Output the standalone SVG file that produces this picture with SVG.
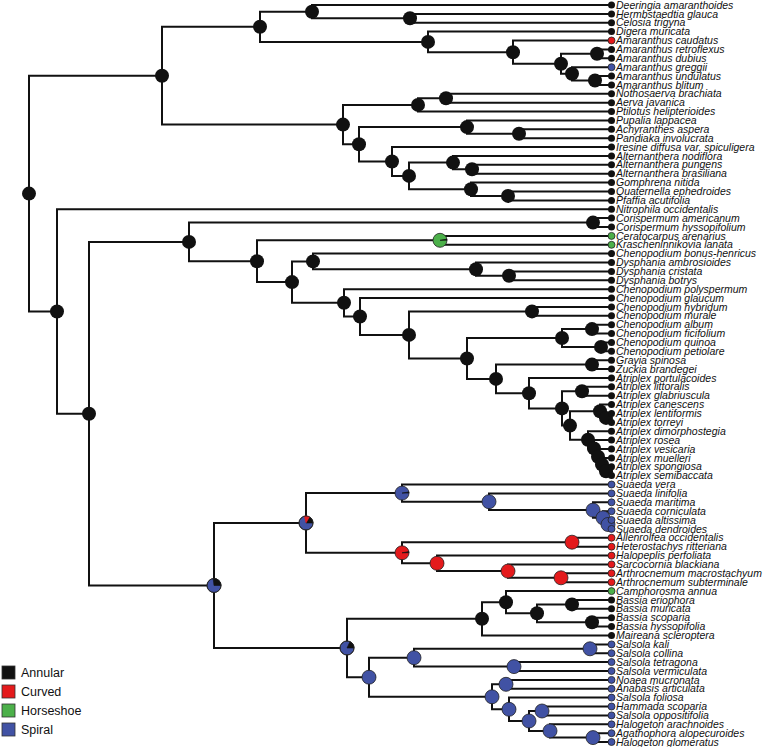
<svg xmlns="http://www.w3.org/2000/svg" width="763" height="747" viewBox="0 0 763 747">
<style>
.e{stroke:#111;stroke-width:2;fill:none;stroke-linejoin:miter;stroke-linecap:square}
.n{fill:#111}
.t{fill:#111}
.bl{fill:#4152a4;stroke:#222;stroke-width:0.8}
.rd{fill:#e41a1c;stroke:#222;stroke-width:0.8}
.gr{fill:#4cb04a;stroke:#222;stroke-width:0.8}
.k{fill:#111;stroke:#111;stroke-width:0.6}
.r{fill:#e41a1c;stroke:#e41a1c;stroke-width:0.4}
.o{fill:none;stroke:#222;stroke-width:0.8}
text{font-family:"Liberation Sans",Arial,Helvetica,sans-serif;fill:#111}
.l{font-style:italic;font-size:10.5px}
.lg{font-size:12.5px}
</style>
<rect width="763" height="747" fill="#fff"/>
<g id="connectors" class="e">
<path d="M162,75.7H29V311.5H57"/>
<path d="M260,26.8H162V124.6H343"/>
<path d="M312,11.7H260V41.9H428"/>
<path d="M611.5,5H312V18.3H410"/>
<path d="M611.5,13.9H410V22.8H611.5"/>
<path d="M611.5,31.6H428V52.2H513"/>
<path d="M611.5,40.5H513V63.8H561"/>
<path d="M597,53.8H561V73.8H572"/>
<path d="M611.5,49.4H597V58.3H611.5"/>
<path d="M611.5,67.2H572V80.5H595"/>
<path d="M611.5,76H595V84.9H611.5"/>
<path d="M418,104.9H343V144.3H359"/>
<path d="M446,98.2H418V111.6H611.5"/>
<path d="M611.5,93.8H446V102.7H611.5"/>
<path d="M467,127.1H359V161.5H392"/>
<path d="M611.5,120.4H467V133.8H519"/>
<path d="M611.5,129.3H519V138.2H611.5"/>
<path d="M611.5,147.1H392V175.9H409"/>
<path d="M453,162.6H409V189.3H471"/>
<path d="M611.5,156H453V169.3H472"/>
<path d="M611.5,164.8H472V173.7H611.5"/>
<path d="M611.5,182.6H471V195.9H508"/>
<path d="M611.5,191.5H508V200.4H611.5"/>
<path d="M611.5,209.2H57V413.7H89"/>
<path d="M189,241.9H89V585.5H214"/>
<path d="M593,222.6H189V261.2H257"/>
<path d="M611.5,218.1H593V227H611.5"/>
<path d="M440,240.3H257V282.1H292"/>
<path d="M611.5,235.9H440V244.8H611.5"/>
<path d="M313,261.4H292V302.8H344"/>
<path d="M611.5,253.6H313V269.2H476"/>
<path d="M611.5,262.5H476V275.8H509"/>
<path d="M611.5,271.4H509V280.3H611.5"/>
<path d="M611.5,289.2H344V316.5H360"/>
<path d="M611.5,298H360V334.9H409"/>
<path d="M532,311.4H409V358.5H467"/>
<path d="M611.5,306.9H532V315.8H611.5"/>
<path d="M562,338H467V378.9H496"/>
<path d="M592,329.1H562V346.9H601"/>
<path d="M611.5,324.7H592V333.6H611.5"/>
<path d="M611.5,342.4H601V351.3H611.5"/>
<path d="M592,364.6H496V393.2H529"/>
<path d="M611.5,360.2H592V369.1H611.5"/>
<path d="M611.5,378H529V408.4H562"/>
<path d="M582,391.3H562V425.6H570"/>
<path d="M611.5,386.8H582V395.7H611.5"/>
<path d="M600,411.3H570V439.8H588"/>
<path d="M611.5,404.6H600V417.9H606"/>
<path d="M611.5,413.5H606V422.4H611.5"/>
<path d="M611.5,431.2H588V448.4H594"/>
<path d="M611.5,440.1H594V456.8H598"/>
<path d="M611.5,449H598V464.5H602"/>
<path d="M611.5,457.9H602V471.2H606"/>
<path d="M611.5,466.8H606V475.6H611.5"/>
<path d="M306,523H214V648H347"/>
<path d="M402,493.1H306V552.8H402"/>
<path d="M611.5,484.5H402V501.7H489"/>
<path d="M611.5,493.4H489V510.1H593"/>
<path d="M611.5,502.3H593V517.8H603"/>
<path d="M611.5,511.2H603V524.5H608"/>
<path d="M611.5,520H608V528.9H611.5"/>
<path d="M572,542.2H402V563.3H437"/>
<path d="M611.5,537.8H572V546.7H611.5"/>
<path d="M611.5,555.6H437V571.1H508"/>
<path d="M611.5,564.4H508V577.8H561"/>
<path d="M611.5,573.3H561V582.2H611.5"/>
<path d="M482,618.8H347V677.2H369"/>
<path d="M506,602.2H482V635.5H611.5"/>
<path d="M611.5,591.1H506V613.3H537"/>
<path d="M572,604.4H537V622.2H592"/>
<path d="M611.5,600H572V608.8H611.5"/>
<path d="M611.5,617.7H592V626.6H611.5"/>
<path d="M414,657.7H369V696.8H492"/>
<path d="M590,648.8H414V666.6H514"/>
<path d="M611.5,644.4H590V653.2H611.5"/>
<path d="M611.5,662.1H514V671H611.5"/>
<path d="M506,684.3H492V709.3H509"/>
<path d="M611.5,679.9H506V688.8H611.5"/>
<path d="M611.5,697.6H509V721H529"/>
<path d="M542,711H529V730.9H550"/>
<path d="M611.5,706.5H542V715.4H611.5"/>
<path d="M611.5,724.3H550V737.6H593"/>
<path d="M611.5,733.2H593V742H611.5"/>
</g>
<g id="internal-nodes">
<g id="n-root"><circle class="n" cx="29" cy="193.6" r="7"/></g>
<g id="n-amaranthaceae"><circle class="n" cx="162" cy="75.7" r="7"/></g>
<g id="n-a9"><circle class="n" cx="260" cy="26.8" r="7"/></g>
<g id="n-a1"><circle class="n" cx="312" cy="11.7" r="7"/></g>
<g id="n-a2"><circle class="n" cx="410" cy="18.3" r="7"/></g>
<g id="n-a8"><circle class="n" cx="428" cy="41.9" r="7"/></g>
<g id="n-a7"><circle class="n" cx="513" cy="52.2" r="7"/></g>
<g id="n-a6"><circle class="n" cx="561" cy="63.8" r="7"/></g>
<g id="n-a5"><circle class="n" cx="597" cy="53.8" r="7"/></g>
<g id="n-a4"><circle class="n" cx="572" cy="73.8" r="7"/></g>
<g id="n-a3"><circle class="n" cx="595" cy="80.5" r="7"/></g>
<g id="n-b12"><circle class="n" cx="343" cy="124.6" r="7"/></g>
<g id="n-b2"><circle class="n" cx="418" cy="104.9" r="7"/></g>
<g id="n-b1"><circle class="n" cx="446" cy="98.2" r="7"/></g>
<g id="n-b11"><circle class="n" cx="359" cy="144.3" r="7"/></g>
<g id="n-b4"><circle class="n" cx="467" cy="127.1" r="7"/></g>
<g id="n-b3"><circle class="n" cx="519" cy="133.8" r="7"/></g>
<g id="n-b10"><circle class="n" cx="392" cy="161.5" r="7"/></g>
<g id="n-b9"><circle class="n" cx="409" cy="175.9" r="7"/></g>
<g id="n-b6"><circle class="n" cx="453" cy="162.6" r="7"/></g>
<g id="n-b5"><circle class="n" cx="472" cy="169.3" r="7"/></g>
<g id="n-b8"><circle class="n" cx="471" cy="189.3" r="7"/></g>
<g id="n-b7"><circle class="n" cx="508" cy="195.9" r="7"/></g>
<g id="n-57"><circle class="n" cx="57" cy="311.5" r="7"/></g>
<g id="n-89"><circle class="n" cx="89" cy="413.7" r="7"/></g>
<g id="n-c24"><circle class="n" cx="189" cy="241.9" r="7"/></g>
<g id="n-c1"><circle class="n" cx="593" cy="222.6" r="7"/></g>
<g id="n-c23"><circle class="n" cx="257" cy="261.2" r="7"/></g>
<g id="n-c2"><circle class="gr" cx="440" cy="240.3" r="7"/><path class="k" d="M440,240.3L447,240.3A7,7 0 0 0 446.89,239.08Z"/></g>
<g id="n-c22"><circle class="n" cx="292" cy="282.1" r="7"/></g>
<g id="n-c5"><circle class="n" cx="313" cy="261.4" r="7"/></g>
<g id="n-c4"><circle class="n" cx="476" cy="269.2" r="7"/></g>
<g id="n-c3"><circle class="n" cx="509" cy="275.8" r="7"/></g>
<g id="n-c21"><circle class="n" cx="344" cy="302.8" r="7"/></g>
<g id="n-c20"><circle class="n" cx="360" cy="316.5" r="7"/></g>
<g id="n-c19"><circle class="n" cx="409" cy="334.9" r="7"/></g>
<g id="n-c6"><circle class="n" cx="532" cy="311.4" r="7"/></g>
<g id="n-c18"><circle class="n" cx="467" cy="358.5" r="7"/></g>
<g id="n-c9"><circle class="n" cx="562" cy="338" r="7"/></g>
<g id="n-c7"><circle class="n" cx="592" cy="329.1" r="7"/></g>
<g id="n-c8"><circle class="n" cx="601" cy="346.9" r="7"/></g>
<g id="n-c17"><circle class="n" cx="496" cy="378.9" r="7"/></g>
<g id="n-c10"><circle class="n" cx="592" cy="364.6" r="7"/></g>
<g id="n-c16"><circle class="n" cx="529" cy="393.2" r="7"/></g>
<g id="n-c15"><circle class="n" cx="562" cy="408.4" r="7"/></g>
<g id="n-c11"><circle class="n" cx="582" cy="391.3" r="7"/></g>
<g id="n-c14"><circle class="n" cx="570" cy="425.6" r="7"/></g>
<g id="n-c13"><circle class="n" cx="600" cy="411.3" r="7"/></g>
<g id="n-c12"><circle class="n" cx="606" cy="417.9" r="7"/></g>
<g id="n-l1"><circle class="n" cx="588" cy="439.8" r="7"/></g>
<g id="n-l2"><circle class="n" cx="594" cy="448.4" r="7"/></g>
<g id="n-l3"><circle class="n" cx="598" cy="456.8" r="7"/></g>
<g id="n-l4"><circle class="n" cx="602" cy="464.5" r="7"/></g>
<g id="n-l5"><circle class="n" cx="606" cy="471.2" r="7"/></g>
<g id="n-B"><circle class="bl" cx="214" cy="585.5" r="7"/><path class="k" d="M214,585.5L221,585.5A7,7 0 0 0 213.15,578.55Z"/><circle class="o" cx="214" cy="585.5" r="7"/></g>
<g id="n-S"><circle class="bl" cx="306" cy="523" r="7"/><path class="k" d="M306,523L313,523A7,7 0 0 0 309.5,516.94Z"/><path class="r" d="M306,523L309.5,516.94A7,7 0 0 0 304.19,516.24Z"/><circle class="o" cx="306" cy="523" r="7"/></g>
<g id="n-s5"><circle class="bl" cx="402" cy="493.1" r="7"/><path class="k" d="M402,493.1L409,493.1A7,7 0 0 0 408.89,491.88Z"/></g>
<g id="n-s4"><circle class="bl" cx="489" cy="501.7" r="7"/></g>
<g id="n-s3"><circle class="bl" cx="593" cy="510.1" r="7"/></g>
<g id="n-s2"><circle class="bl" cx="603" cy="517.8" r="7"/></g>
<g id="n-s1"><circle class="bl" cx="608" cy="524.5" r="7"/></g>
<g id="n-r5"><circle class="rd" cx="402" cy="552.8" r="7"/><path class="k" d="M402,552.8L409,552.8A7,7 0 0 0 408.89,551.58Z"/></g>
<g id="n-r1"><circle class="rd" cx="572" cy="542.2" r="7"/></g>
<g id="n-r4"><circle class="rd" cx="437" cy="563.3" r="7"/></g>
<g id="n-r3"><circle class="rd" cx="508" cy="571.1" r="7"/></g>
<g id="n-r2"><circle class="rd" cx="561" cy="577.8" r="7"/></g>
<g id="n-K"><circle class="bl" cx="347" cy="648" r="7"/><path class="k" d="M347,648L354,648A7,7 0 0 0 349.96,641.66Z"/><circle class="o" cx="347" cy="648" r="7"/></g>
<g id="n-k5"><circle class="n" cx="482" cy="618.8" r="7"/></g>
<g id="n-k4"><circle class="n" cx="506" cy="602.2" r="7"/></g>
<g id="n-k3"><circle class="n" cx="537" cy="613.3" r="7"/></g>
<g id="n-k1"><circle class="n" cx="572" cy="604.4" r="7"/></g>
<g id="n-k2"><circle class="n" cx="592" cy="622.2" r="7"/></g>
<g id="n-x11"><circle class="bl" cx="369" cy="677.2" r="7"/></g>
<g id="n-x3"><circle class="bl" cx="414" cy="657.7" r="7"/></g>
<g id="n-x1"><circle class="bl" cx="590" cy="648.8" r="7"/></g>
<g id="n-x2"><circle class="bl" cx="514" cy="666.6" r="7"/></g>
<g id="n-x10"><circle class="bl" cx="492" cy="696.8" r="7"/></g>
<g id="n-x4"><circle class="bl" cx="506" cy="684.3" r="7"/></g>
<g id="n-x9"><circle class="bl" cx="509" cy="709.3" r="7"/></g>
<g id="n-x8"><circle class="bl" cx="529" cy="721" r="7"/></g>
<g id="n-x7"><circle class="bl" cx="542" cy="711" r="7"/></g>
<g id="n-x6"><circle class="bl" cx="550" cy="730.9" r="7"/></g>
<g id="n-x5"><circle class="bl" cx="593" cy="737.6" r="7"/></g>
</g>
<g id="tips">
<g id="t1"><circle class="t" cx="611.5" cy="5" r="3.5"/><text class="l" x="616" y="8.6">Deeringia amaranthoides</text></g>
<g id="t2"><circle class="t" cx="611.5" cy="13.9" r="3.5"/><text class="l" x="616" y="17.5">Hermbstaedtia glauca</text></g>
<g id="t3"><circle class="t" cx="611.5" cy="22.8" r="3.5"/><text class="l" x="616" y="26.4">Celosia trigyna</text></g>
<g id="t4"><circle class="t" cx="611.5" cy="31.6" r="3.5"/><text class="l" x="616" y="35.2">Digera muricata</text></g>
<g id="t5"><circle class="rd" cx="611.5" cy="40.5" r="3.5"/><text class="l" x="616" y="44.1">Amaranthus caudatus</text></g>
<g id="t6"><circle class="t" cx="611.5" cy="49.4" r="3.5"/><text class="l" x="616" y="53">Amaranthus retroflexus</text></g>
<g id="t7"><circle class="t" cx="611.5" cy="58.3" r="3.5"/><text class="l" x="616" y="61.9">Amaranthus dubius</text></g>
<g id="t8"><circle class="bl" cx="611.5" cy="67.2" r="3.5"/><text class="l" x="616" y="70.8">Amaranthus greggii</text></g>
<g id="t9"><circle class="t" cx="611.5" cy="76" r="3.5"/><text class="l" x="616" y="79.6">Amaranthus undulatus</text></g>
<g id="t10"><circle class="t" cx="611.5" cy="84.9" r="3.5"/><text class="l" x="616" y="88.5">Amaranthus blitum</text></g>
<g id="t11"><circle class="t" cx="611.5" cy="93.8" r="3.5"/><text class="l" x="616" y="97.4">Nothosaerva brachiata</text></g>
<g id="t12"><circle class="t" cx="611.5" cy="102.7" r="3.5"/><text class="l" x="616" y="106.3">Aerva javanica</text></g>
<g id="t13"><circle class="t" cx="611.5" cy="111.6" r="3.5"/><text class="l" x="616" y="115.2">Ptilotus helipterioides</text></g>
<g id="t14"><circle class="t" cx="611.5" cy="120.4" r="3.5"/><text class="l" x="616" y="124">Pupalia lappacea</text></g>
<g id="t15"><circle class="t" cx="611.5" cy="129.3" r="3.5"/><text class="l" x="616" y="132.9">Achyranthes aspera</text></g>
<g id="t16"><circle class="t" cx="611.5" cy="138.2" r="3.5"/><text class="l" x="616" y="141.8">Pandiaka involucrata</text></g>
<g id="t17"><circle class="t" cx="611.5" cy="147.1" r="3.5"/><text class="l" x="616" y="150.7">Iresine diffusa var. spiculigera</text></g>
<g id="t18"><circle class="t" cx="611.5" cy="156" r="3.5"/><text class="l" x="616" y="159.6">Alternanthera nodiflora</text></g>
<g id="t19"><circle class="t" cx="611.5" cy="164.8" r="3.5"/><text class="l" x="616" y="168.4">Alternanthera pungens</text></g>
<g id="t20"><circle class="t" cx="611.5" cy="173.7" r="3.5"/><text class="l" x="616" y="177.3">Alternanthera brasiliana</text></g>
<g id="t21"><circle class="t" cx="611.5" cy="182.6" r="3.5"/><text class="l" x="616" y="186.2">Gomphrena nitida</text></g>
<g id="t22"><circle class="t" cx="611.5" cy="191.5" r="3.5"/><text class="l" x="616" y="195.1">Quaternella ephedroides</text></g>
<g id="t23"><circle class="t" cx="611.5" cy="200.4" r="3.5"/><text class="l" x="616" y="204">Pfaffia acutifolia</text></g>
<g id="t24"><circle class="t" cx="611.5" cy="209.2" r="3.5"/><text class="l" x="616" y="212.8">Nitrophila occidentalis</text></g>
<g id="t25"><circle class="t" cx="611.5" cy="218.1" r="3.5"/><text class="l" x="616" y="221.7">Corispermum americanum</text></g>
<g id="t26"><circle class="t" cx="611.5" cy="227" r="3.5"/><text class="l" x="616" y="230.6">Corispermum hyssopifolium</text></g>
<g id="t27"><circle class="gr" cx="611.5" cy="235.9" r="3.5"/><text class="l" x="616" y="239.5">Ceratocarpus arenarius</text></g>
<g id="t28"><circle class="gr" cx="611.5" cy="244.8" r="3.5"/><text class="l" x="616" y="248.4">Krascheninnikovia lanata</text></g>
<g id="t29"><circle class="t" cx="611.5" cy="253.6" r="3.5"/><text class="l" x="616" y="257.2">Chenopodium bonus-henricus</text></g>
<g id="t30"><circle class="t" cx="611.5" cy="262.5" r="3.5"/><text class="l" x="616" y="266.1">Dysphania ambrosioides</text></g>
<g id="t31"><circle class="t" cx="611.5" cy="271.4" r="3.5"/><text class="l" x="616" y="275">Dysphania cristata</text></g>
<g id="t32"><circle class="t" cx="611.5" cy="280.3" r="3.5"/><text class="l" x="616" y="283.9">Dysphania botrys</text></g>
<g id="t33"><circle class="t" cx="611.5" cy="289.2" r="3.5"/><text class="l" x="616" y="292.8">Chenopodium polyspermum</text></g>
<g id="t34"><circle class="t" cx="611.5" cy="298" r="3.5"/><text class="l" x="616" y="301.6">Chenopodium glaucum</text></g>
<g id="t35"><circle class="t" cx="611.5" cy="306.9" r="3.5"/><text class="l" x="616" y="310.5">Chenopodium hybridum</text></g>
<g id="t36"><circle class="t" cx="611.5" cy="315.8" r="3.5"/><text class="l" x="616" y="319.4">Chenopodium murale</text></g>
<g id="t37"><circle class="t" cx="611.5" cy="324.7" r="3.5"/><text class="l" x="616" y="328.3">Chenopodium album</text></g>
<g id="t38"><circle class="t" cx="611.5" cy="333.6" r="3.5"/><text class="l" x="616" y="337.2">Chenopodium ficifolium</text></g>
<g id="t39"><circle class="t" cx="611.5" cy="342.4" r="3.5"/><text class="l" x="616" y="346">Chenopodium quinoa</text></g>
<g id="t40"><circle class="t" cx="611.5" cy="351.3" r="3.5"/><text class="l" x="616" y="354.9">Chenopodium petiolare</text></g>
<g id="t41"><circle class="t" cx="611.5" cy="360.2" r="3.5"/><text class="l" x="616" y="363.8">Grayia spinosa</text></g>
<g id="t42"><circle class="t" cx="611.5" cy="369.1" r="3.5"/><text class="l" x="616" y="372.7">Zuckia brandegei</text></g>
<g id="t43"><circle class="t" cx="611.5" cy="378" r="3.5"/><text class="l" x="616" y="381.6">Atriplex portulacoides</text></g>
<g id="t44"><circle class="t" cx="611.5" cy="386.8" r="3.5"/><text class="l" x="616" y="390.4">Atriplex littoralis</text></g>
<g id="t45"><circle class="t" cx="611.5" cy="395.7" r="3.5"/><text class="l" x="616" y="399.3">Atriplex glabriuscula</text></g>
<g id="t46"><circle class="t" cx="611.5" cy="404.6" r="3.5"/><text class="l" x="616" y="408.2">Atriplex canescens</text></g>
<g id="t47"><circle class="t" cx="611.5" cy="413.5" r="3.5"/><text class="l" x="616" y="417.1">Atriplex lentiformis</text></g>
<g id="t48"><circle class="t" cx="611.5" cy="422.4" r="3.5"/><text class="l" x="616" y="426">Atriplex torreyi</text></g>
<g id="t49"><circle class="t" cx="611.5" cy="431.2" r="3.5"/><text class="l" x="616" y="434.8">Atriplex dimorphostegia</text></g>
<g id="t50"><circle class="t" cx="611.5" cy="440.1" r="3.5"/><text class="l" x="616" y="443.7">Atriplex rosea</text></g>
<g id="t51"><circle class="t" cx="611.5" cy="449" r="3.5"/><text class="l" x="616" y="452.6">Atriplex vesicaria</text></g>
<g id="t52"><circle class="t" cx="611.5" cy="457.9" r="3.5"/><text class="l" x="616" y="461.5">Atriplex muelleri</text></g>
<g id="t53"><circle class="t" cx="611.5" cy="466.8" r="3.5"/><text class="l" x="616" y="470.4">Atriplex spongiosa</text></g>
<g id="t54"><circle class="t" cx="611.5" cy="475.6" r="3.5"/><text class="l" x="616" y="479.2">Atriplex semibaccata</text></g>
<g id="t55"><circle class="bl" cx="611.5" cy="484.5" r="3.5"/><text class="l" x="616" y="488.1">Suaeda vera</text></g>
<g id="t56"><circle class="bl" cx="611.5" cy="493.4" r="3.5"/><text class="l" x="616" y="497">Suaeda linifolia</text></g>
<g id="t57"><circle class="bl" cx="611.5" cy="502.3" r="3.5"/><text class="l" x="616" y="505.9">Suaeda maritima</text></g>
<g id="t58"><circle class="bl" cx="611.5" cy="511.2" r="3.5"/><text class="l" x="616" y="514.8">Suaeda corniculata</text></g>
<g id="t59"><circle class="bl" cx="611.5" cy="520" r="3.5"/><text class="l" x="616" y="523.6">Suaeda altissima</text></g>
<g id="t60"><circle class="bl" cx="611.5" cy="528.9" r="3.5"/><text class="l" x="616" y="532.5">Suaeda dendroides</text></g>
<g id="t61"><circle class="rd" cx="611.5" cy="537.8" r="3.5"/><text class="l" x="616" y="541.4">Allenrolfea occidentalis</text></g>
<g id="t62"><circle class="rd" cx="611.5" cy="546.7" r="3.5"/><text class="l" x="616" y="550.3">Heterostachys ritteriana</text></g>
<g id="t63"><circle class="rd" cx="611.5" cy="555.6" r="3.5"/><text class="l" x="616" y="559.2">Halopeplis perfoliata</text></g>
<g id="t64"><circle class="rd" cx="611.5" cy="564.4" r="3.5"/><text class="l" x="616" y="568">Sarcocornia blackiana</text></g>
<g id="t65"><circle class="rd" cx="611.5" cy="573.3" r="3.5"/><text class="l" x="616" y="576.9">Arthrocnemum macrostachyum</text></g>
<g id="t66"><circle class="rd" cx="611.5" cy="582.2" r="3.5"/><text class="l" x="616" y="585.8">Arthrocnemum subterminale</text></g>
<g id="t67"><circle class="gr" cx="611.5" cy="591.1" r="3.5"/><text class="l" x="616" y="594.7">Camphorosma annua</text></g>
<g id="t68"><circle class="t" cx="611.5" cy="600" r="3.5"/><text class="l" x="616" y="603.6">Bassia eriophora</text></g>
<g id="t69"><circle class="t" cx="611.5" cy="608.8" r="3.5"/><text class="l" x="616" y="612.4">Bassia muricata</text></g>
<g id="t70"><circle class="t" cx="611.5" cy="617.7" r="3.5"/><text class="l" x="616" y="621.3">Bassia scoparia</text></g>
<g id="t71"><circle class="t" cx="611.5" cy="626.6" r="3.5"/><text class="l" x="616" y="630.2">Bassia hyssopifolia</text></g>
<g id="t72"><circle class="t" cx="611.5" cy="635.5" r="3.5"/><text class="l" x="616" y="639.1">Maireana scleroptera</text></g>
<g id="t73"><circle class="bl" cx="611.5" cy="644.4" r="3.5"/><text class="l" x="616" y="648">Salsola kali</text></g>
<g id="t74"><circle class="bl" cx="611.5" cy="653.2" r="3.5"/><text class="l" x="616" y="656.8">Salsola collina</text></g>
<g id="t75"><circle class="bl" cx="611.5" cy="662.1" r="3.5"/><text class="l" x="616" y="665.7">Salsola tetragona</text></g>
<g id="t76"><circle class="bl" cx="611.5" cy="671" r="3.5"/><text class="l" x="616" y="674.6">Salsola vermiculata</text></g>
<g id="t77"><circle class="bl" cx="611.5" cy="679.9" r="3.5"/><text class="l" x="616" y="683.5">Noaea mucronata</text></g>
<g id="t78"><circle class="bl" cx="611.5" cy="688.8" r="3.5"/><text class="l" x="616" y="692.4">Anabasis articulata</text></g>
<g id="t79"><circle class="bl" cx="611.5" cy="697.6" r="3.5"/><text class="l" x="616" y="701.2">Salsola foliosa</text></g>
<g id="t80"><circle class="bl" cx="611.5" cy="706.5" r="3.5"/><text class="l" x="616" y="710.1">Hammada scoparia</text></g>
<g id="t81"><circle class="bl" cx="611.5" cy="715.4" r="3.5"/><text class="l" x="616" y="719">Salsola oppositifolia</text></g>
<g id="t82"><circle class="bl" cx="611.5" cy="724.3" r="3.5"/><text class="l" x="616" y="727.9">Halogeton arachnoides</text></g>
<g id="t83"><circle class="bl" cx="611.5" cy="733.2" r="3.5"/><text class="l" x="616" y="736.8">Agathophora alopecuroides</text></g>
<g id="t84"><circle class="bl" cx="611.5" cy="742" r="3.5"/><text class="l" x="616" y="745.6">Halogeton glomeratus</text></g>
</g>
<g id="legend">
<rect x="2" y="666" width="13" height="13" fill="#111" stroke="#333" stroke-width="0.8"/>
<text class="lg" x="21" y="676.5">Annular</text>
<rect x="2" y="685" width="13" height="13" fill="#e41a1c" stroke="#333" stroke-width="0.8"/>
<text class="lg" x="21" y="695.5">Curved</text>
<rect x="2" y="704" width="13" height="13" fill="#4cb04a" stroke="#333" stroke-width="0.8"/>
<text class="lg" x="21" y="714.5">Horseshoe</text>
<rect x="2" y="723" width="13" height="13" fill="#4152a4" stroke="#333" stroke-width="0.8"/>
<text class="lg" x="21" y="733.5">Spiral</text>
</g>
</svg>
